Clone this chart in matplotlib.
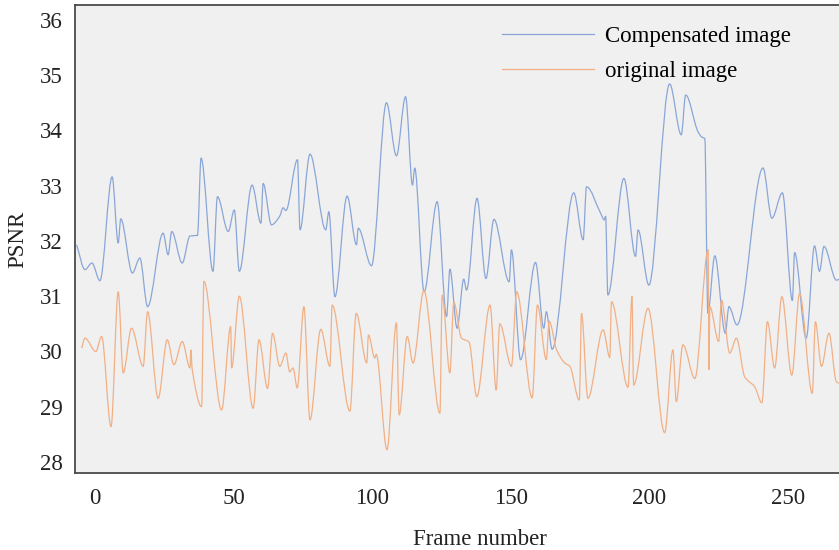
import matplotlib
matplotlib.use('Agg')
import matplotlib.pyplot as plt
from matplotlib.path import Path
from matplotlib.patches import PathPatch
from matplotlib.lines import Line2D

plt.rcParams['font.family'] = ['Liberation Serif', 'DejaVu Serif']

# Compensated image: frame positions and PSNR values
comp_frames = [-6.6, -3.6, -1.1, 1.8, 6.2, 8.4, 9.3, 13.5, 16.2, 19.0, 24.6, 26.4, 27.7,
               31.5, 34.3, 37.0, 38.3, 42.6, 44.2, 48.1, 50.3, 52.1, 56.7, 59.9, 60.7,
               63.7, 66.7, 67.9, 68.9, 73.1, 74.0, 77.6, 83.3, 84.4, 86.6, 91.0, 94.4,
               95.0, 99.8, 105.2, 108.8, 112.1, 114.6, 115.4, 118.8, 123.5, 126.9, 128.1,
               130.7, 133.1, 134.1, 137.9, 141.1, 144.0, 149.5, 150.3, 153.6, 159.0,
               162.0, 162.9, 165.0, 172.8, 176.2, 177.4, 182.5, 183.8, 184.3, 185.1,
               190.9, 195.1, 196.0, 199.9, 207.4, 211.6, 213.2, 217.6, 219.0, 220.1,
               221.2, 223.7, 227.5, 228.8, 231.7, 241.1, 244.3, 248.1, 251.7, 252.5,
               256.7, 259.7, 261.5, 263.1, 267.6, 270.0]
comp_psnr = [31.93, 31.48, 31.60, 31.28, 33.16, 31.96, 32.40, 31.42, 31.69, 30.81, 32.14,
             31.75, 32.17, 31.60, 32.09, 32.10, 33.50, 31.45, 32.80, 32.17, 32.56, 31.45,
             33.01, 32.32, 33.04, 32.29, 32.45, 32.60, 32.55, 33.47, 32.20, 33.57, 32.20,
             32.53, 30.99, 32.81, 31.93, 32.23, 31.55, 34.50, 33.54, 34.61, 33.01, 33.32,
             31.08, 32.71, 30.63, 31.49, 30.42, 31.31, 31.11, 32.77, 31.32, 32.39, 31.26,
             31.84, 29.85, 31.61, 30.42, 30.72, 30.04, 32.87, 32.02, 32.98, 32.50, 32.38,
             32.45, 31.02, 33.13, 31.72, 32.20, 31.20, 34.84, 33.92, 34.64, 33.98, 33.88,
             33.85, 30.69, 31.73, 30.33, 30.81, 30.48, 33.32, 32.41, 32.87, 30.92, 31.79,
             30.24, 31.91, 31.45, 31.90, 31.29, 31.35]

# Original image
orig_frames = [-4.8, -3.6, 0.3, 2.4, 5.8, 8.4, 10.2, 13.2, 17.4, 19.0, 22.8, 26.1, 28.5,
               31.5, 34.3, 34.6, 35.1, 38.5, 39.3, 45.7, 49.0, 49.3, 52.1, 57.1, 59.2,
               62.3, 64.1, 66.7, 68.9, 70.3, 71.5, 73.0, 75.4, 77.6, 81.5, 84.8, 85.6,
               92.0, 94.3, 98.1, 98.7, 101.0, 101.5, 105.4, 108.8, 109.8, 112.7, 114.8,
               118.7, 124.5, 125.3, 128.1, 129.5, 132.3, 135.0, 137.8, 142.6, 144.8,
               146.1, 150.3, 152.2, 157.8, 159.7, 162.9, 163.9, 166.6, 169.6, 171.4,
               174.8, 175.6, 177.9, 183.4, 185.8, 186.4, 192.4, 193.8, 194.4, 199.6,
               205.6, 208.6, 209.8, 212.2, 216.5, 221.3, 221.6, 221.9, 225.1, 226.1,
               229.1, 231.5, 234.5, 238.1, 240.7, 242.7, 245.3, 247.9, 251.5, 254.3,
               258.9, 260.0, 262.2, 264.9, 267.6, 270.0]
orig_psnr = [30.06, 30.24, 30.00, 30.27, 28.64, 31.08, 29.61, 30.42, 29.73, 30.72, 29.15,
             30.21, 29.76, 30.18, 29.70, 30.03, 29.67, 29.00, 31.27, 28.94, 30.45, 29.70,
             31.00, 28.97, 30.21, 29.33, 30.33, 29.73, 29.97, 29.63, 29.70, 29.34, 30.81,
             28.76, 30.40, 29.73, 30.84, 28.92, 30.69, 29.79, 30.30, 29.88, 29.95, 28.22,
             30.52, 28.85, 30.27, 29.79, 31.10, 28.88, 31.02, 29.61, 30.89, 30.24, 30.17,
             29.18, 30.84, 29.30, 30.50, 29.73, 31.08, 29.16, 30.84, 29.85, 30.55, 30.03,
             29.79, 29.73, 29.12, 30.69, 29.15, 30.39, 29.89, 30.90, 29.35, 31.00, 29.39,
             30.78, 28.53, 30.03, 29.09, 30.12, 29.51, 31.84, 29.67, 30.81, 30.18, 30.93,
             29.97, 30.24, 29.54, 29.36, 29.07, 30.54, 29.70, 30.99, 29.57, 31.05, 29.24,
             30.54, 29.73, 30.33, 29.45, 29.40]

series_labels = ['Compensated image', 'original image']
series_colors = ['#8aa6d8', '#f2b085']


def smooth_path(xs, ys):
    # cubic Bezier segments with flat tangents at local extrema (smoothed line look)
    n = len(xs)
    slopes = []
    for i in range(n):
        if i == 0:
            s = (ys[1] - ys[0]) / (xs[1] - xs[0])
        elif i == n - 1:
            s = (ys[-1] - ys[-2]) / (xs[-1] - xs[-2])
        else:
            d0 = (ys[i] - ys[i - 1]) / (xs[i] - xs[i - 1])
            d1 = (ys[i + 1] - ys[i]) / (xs[i + 1] - xs[i])
            s = 0.0 if d0 * d1 <= 0 else 2 * d0 * d1 / (d0 + d1)
        slopes.append(s)
    verts = [(xs[0], ys[0])]
    codes = [Path.MOVETO]
    for i in range(n - 1):
        h = xs[i + 1] - xs[i]
        verts += [(xs[i] + h / 3, ys[i] + slopes[i] * h / 3),
                  (xs[i + 1] - h / 3, ys[i + 1] - slopes[i + 1] * h / 3),
                  (xs[i + 1], ys[i + 1])]
        codes += [Path.CURVE4] * 3
    return Path(verts, codes)


fig = plt.figure(figsize=(8.39, 5.5), dpi=100)
ax = fig.add_axes([0.0894, 0.14, 0.965, 0.851])
ax.set_facecolor('#f0f0f0')

for xs, ys, color in [(comp_frames, comp_psnr, series_colors[0]),
                      (orig_frames, orig_psnr, series_colors[1])]:
    ax.add_patch(PathPatch(smooth_path(xs, ys), fill=False, edgecolor=color, linewidth=0.9))

ax.set_xlim(-7.2, 285)
ax.set_ylim(27.8, 36.27)
ax.set_xticks([0, 50, 100, 150, 200, 250])
ax.set_yticks([28, 29, 30, 31, 32, 33, 34, 35, 36])
ax.tick_params(length=0, labelsize=16.5, colors='#222222')
ax.tick_params(axis='x', pad=11)
ax.tick_params(axis='y', pad=9)

for side in ['left', 'top', 'bottom']:
    ax.spines[side].set_color('#4a4a4a')
    ax.spines[side].set_linewidth(1.3)
ax.spines['right'].set_visible(False)

ax.set_xlabel('Frame number', fontsize=16.5, labelpad=14, color='#222222')
ax.set_ylabel('PSNR', fontsize=16.5, labelpad=8, color='#222222')

handles = [Line2D([], [], color=c, linewidth=0.9) for c in series_colors]
fig.legend(handles, series_labels, loc='upper left', bbox_to_anchor=(502 / 839, 1 - 26 / 550),
           frameon=False, fontsize=16.5, handlelength=4.0, handletextpad=0.5,
           labelspacing=0.6, borderpad=0, borderaxespad=0)

fig.savefig('out.png', dpi=100)
